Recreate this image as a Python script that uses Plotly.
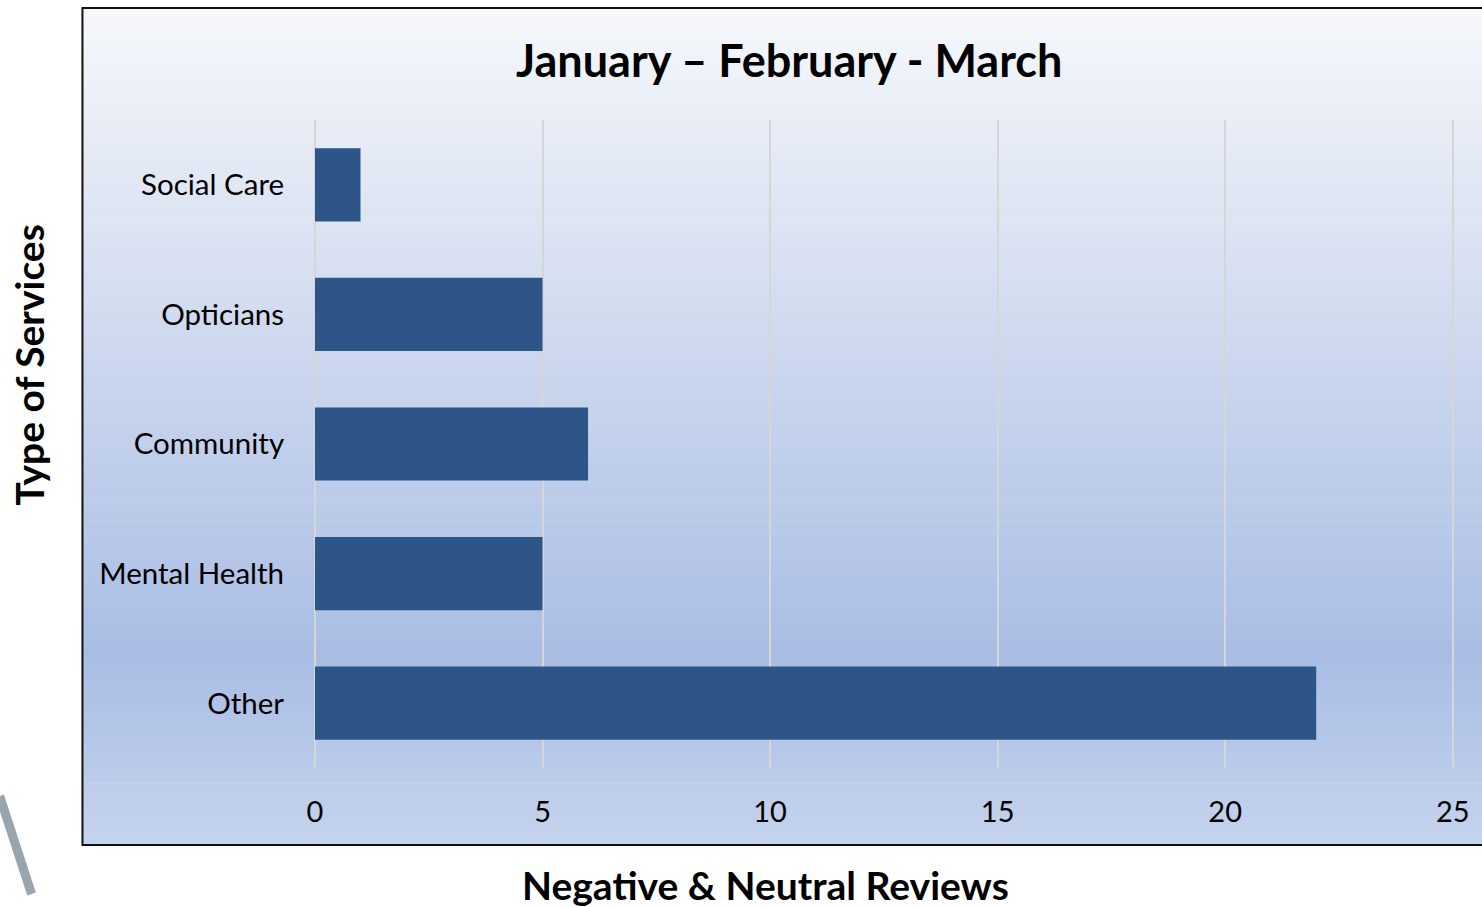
import numpy as np
import plotly.graph_objects as go

services = ["Social Care", "Opticians", "Community", "Mental Health", "Other"]
reviews = [1, 5, 6, 5, 22]
x_ticks = [0, 5, 10, 15, 20, 25]

title = "January \u2013 February - March"
x_title = "Negative &amp; Neutral Reviews"
y_title = "Type of Services"

W, H = 1482, 907
X_MAX = 25.05  # a little past 25 so the last grid line is kept
# plot area on screen: x 315..(25 at 1455), y 120..768
unit = (1455 - 315) / 25
L, T = 315, 120
R, B = W - (315 + unit * X_MAX), H - 768
pw, ph = W - L - R, H - T - B


def px(x):
    return (x - L) / pw


def py(y):
    return (H - B - y) / ph


fig = go.Figure()
fig.add_trace(go.Bar(
    x=reviews,
    y=services,
    orientation="h",
    marker=dict(color="#2e5588", line=dict(width=0)),
    width=0.565,
))

# gradient panel behind the chart, built from thin strips
stops = [(0.0, (246, 248, 252)), (0.2, (226, 232, 244)), (0.77, (169, 189, 228)), (1.0, (197, 211, 237))]
top, bottom = 8, 845
n = 120
shapes = []
for i in range(n):
    t = (i + 0.5) / n
    for (a, ca), (b, cb) in zip(stops[:-1], stops[1:]):
        if a <= t <= b:
            f = (t - a) / (b - a)
            c = tuple(int(round(ca[k] + (cb[k] - ca[k]) * f)) for k in range(3))
            break
    y0 = top + (bottom - top) * i / n
    y1 = top + (bottom - top) * (i + 1) / n + 0.6
    shapes.append(dict(type="rect", xref="paper", yref="paper", layer="below",
                       x0=px(82), x1=px(1510), y0=py(y1), y1=py(y0),
                       fillcolor="rgb(%d,%d,%d)" % c, line=dict(width=0)))
shapes.append(dict(type="rect", xref="paper", yref="paper", layer="below",
                   x0=px(82), x1=px(1510), y0=py(845), y1=py(8),
                   line=dict(color="#111111", width=2)))
# decorative slide stroke at lower left
shapes.append(dict(type="line", xref="paper", yref="paper",
                   x0=px(-1), y0=py(796), x1=px(31), y1=py(894),
                   line=dict(color="#98a5ae", width=9)))

fig.update_layout(
    width=W, height=H,
    margin=dict(l=L, r=R, t=T, b=B),
    paper_bgcolor="white",
    plot_bgcolor="rgba(0,0,0,0)",
    showlegend=False,
    shapes=shapes,
    font=dict(family="Lato", color="#000000"),
    xaxis=dict(
        range=[0, X_MAX], tickvals=x_ticks, showgrid=True, gridcolor="#d6d6d6", gridwidth=2,
        zeroline=True, zerolinecolor="#d6d6d6", zerolinewidth=2, showline=False,
        ticks="outside", ticklen=0,
        ticklabelstandoff=18, tickfont=dict(size=29, family="Lato"),
    ),
    yaxis=dict(
        categoryorder="array", categoryarray=services[::-1],
        showgrid=False, zeroline=False, showline=False, ticks="outside", ticklen=0,
        ticklabelstandoff=24, tickfont=dict(size=29.5, family="Lato"),
    ),
    annotations=[
        dict(text="<b>%s</b>" % title, xref="paper", yref="paper", x=px(790), y=py(60),
             xanchor="center", yanchor="middle",
             showarrow=False, font=dict(size=45, family="Lato")),
        dict(text="<b>%s</b>" % x_title, xref="paper", yref="paper", x=px(766), y=py(885),
             xanchor="center", yanchor="middle",
             showarrow=False, font=dict(size=39, family="Lato")),
        dict(text="<b>%s</b>" % y_title, xref="paper", yref="paper", x=px(28), y=py(365),
             xanchor="center", yanchor="middle",
             showarrow=False, textangle=-90, font=dict(size=39, family="Lato")),
    ],
)

# drop the default page margin so the figure sits at the window's corner
fig.write_html("out.html", config={"displayModeBar": False},
               post_script="document.body.style.margin = '0';")
